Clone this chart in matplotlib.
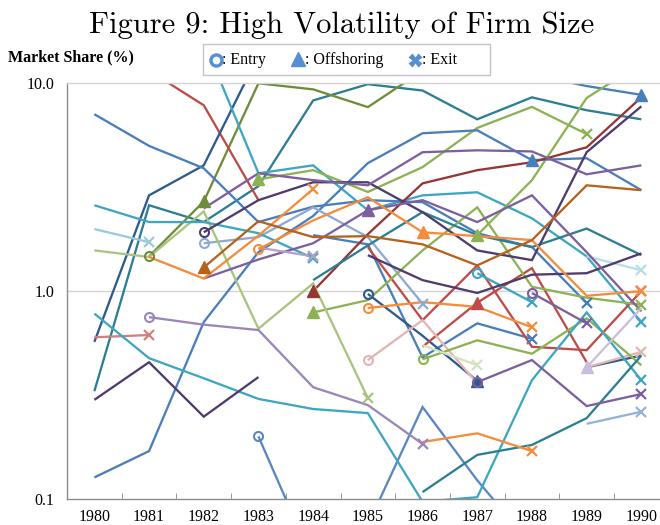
import numpy as np
import matplotlib
matplotlib.use("Agg")
import matplotlib.pyplot as plt
from matplotlib.lines import Line2D
from matplotlib.patches import Rectangle

N = None
years = list(range(1980, 1991))
year_labels = [str(y) for y in years]
y_ticks = [0.1, 1.0, 10.0]
y_tick_labels = ["0.1", "1.0", "10.0"]

# ---- series values (market share %, by year 1980..1990) ----
blue_a = [7.1, 5.0, 3.9, 2.15, 2.55, 2.74, 2.68, 1.9, 1.63, 0.875, N]
blue_b = [0.127, 0.17, 0.71, 1.54, 2.3, 4.13, 5.75, 5.94, 4.27, 4.36, 3.06]
blue_c = [N, N, N, N, N, N, N, N, 11.0, 9.7, 8.8]
blue_d = [N, N, N, N, 1.86, 1.68, 0.48, 0.70, 0.59, N, N]
blue_e = [N, N, N, 0.2, 0.05, N, N, N, N, N, N]
blue_f = [N, N, N, N, N, 0.075, 0.277, 0.123, 0.06, N, N]
lightblue_a = [N, N, 1.7, 1.82, 2.53, 1.82, 0.87, N, N, N, N]
lightblue_b = [N, N, N, N, N, N, N, N, N, 0.23, 0.263]
darkblue_a = [0.57, 2.89, 4.03, 13.6, N, N, N, N, N, N, N]
darkblue_b = [N, N, N, N, N, 0.97, 0.61, 0.37, N, N, N]
darkblue_c = [N, N, N, N, N, N, N, N, N, 0.43, 0.49]
red_a = [N, 11.5, 7.84, 2.74, N, N, N, N, N, N, N]
red_b = [N, N, N, N, N, 1.63, 0.725, 1.33, 0.54, 0.52, 1.0]
red_c = [N, N, N, N, N, N, 0.54, 0.88, 1.29, 0.455, N]
lightred = [0.60, 0.615, N, N, N, N, N, N, N, N, N]
darkred = [N, N, N, N, 1.0, 1.88, 3.3, 3.82, 4.17, 4.92, 8.56]
pink_a = [N, N, N, N, N, 0.466, 0.725, 0.36, N, N, N]
pink_b = [N, N, N, N, N, N, N, N, N, 0.43, 0.51]
olive = [N, 1.47, 2.7, 10.0, 9.35, 7.68, 11.5, N, N, N, N]
green_a = [N, N, N, 3.45, 3.82, 3.0, 3.95, 6.1, 7.7, 5.7, N]
green_b = [N, N, N, N, 0.79, 0.905, 1.57, 2.53, 1.05, 0.93, 0.86]
green_c = [N, N, N, N, N, N, N, 1.86, 3.42, 8.5, 12.5]
green_d = [N, N, N, N, N, N, 0.47, 0.58, 0.50, 0.74, 0.44]
lightgreen = [1.57, 1.46, 2.42, 0.66, 1.09, 0.306, N, N, N, N, N]
palegreen = [N, N, N, N, N, N, 0.55, 0.44, N, N, N]
cyan_a = [0.78, 0.476, 0.381, 0.303, 0.271, 0.259, 0.097, 0.102, 0.373, 0.79, 0.373]
cyan_b = [2.59, 2.15, 2.15, 1.9, 1.44, N, N, N, N, N, N]
cyan_c = [N, N, 16.0, 3.69, 4.03, 2.45, 2.89, 2.99, 2.24, 1.47, 0.71]
cyan_d = [N, N, N, N, N, N, N, 1.22, 0.885, N, N]
lightcyan_a = [1.99, 1.72, N, N, N, N, N, N, N, N, N]
lightcyan_b = [N, N, N, N, N, N, N, N, N, 1.47, 1.26]
teal_a = [0.33, 2.59, 2.15, 3.2, 8.27, 9.9, 9.23, 6.71, 8.56, 7.42, 6.71]
teal_b = [N, N, N, N, N, N, 0.108, 0.163, 0.182, 0.245, 0.49]
teal_c = [N, N, N, N, 1.13, 1.66, 2.4, 1.86, 1.63, 2.0, 1.49]
darkpurple_a = [0.3, 0.455, 0.249, 0.386, N, N, N, N, N, N, N]
darkpurple_b = [N, N, 1.92, 2.74, 3.34, 3.34, 2.4, 1.57, 1.41, 4.66, 7.75]
darkpurple_c = [N, N, N, N, N, 1.49, 1.13, 0.98, 1.2, 1.22, 1.52]
purple_a = [N, N, 2.5, 3.69, 3.42, 3.23, 4.66, 4.76, 4.7, 3.65, 4.03]
purple_b = [N, N, 1.15, 1.42, 1.7, 2.45, 2.74, 2.15, 2.89, 1.54, 0.8]
purple_c = [N, N, N, N, N, N, N, 0.365, 0.466, 0.28, 0.32]
purple_d = [N, N, N, N, N, N, N, N, 0.98, 0.7, N]
lavender_a = [N, 0.75, 0.69, 0.65, 0.345, 0.283, 0.184, N, N, N, N]
lavender_b = [N, N, N, N, N, N, N, N, N, 0.43, 0.83]
lavender_c = [N, N, N, 1.62, 1.47, N, N, N, N, N, N]
orange_a = [N, 1.46, 1.15, 1.85, 3.1, N, N, N, N, N, N]
orange_b = [N, N, N, 1.59, 2.19, 2.83, 1.92, 1.84, 1.76, 0.95, 1.0]
orange_c = [N, N, N, N, N, 0.83, 0.885, 0.84, 0.67, N, N]
orange_d = [N, N, N, N, N, N, 0.188, 0.207, 0.17, N, N]
brown = [N, N, 1.30, 2.17, 1.82, 1.84, 1.68, 1.33, 1.76, 3.23, 3.06]

# (values, colour, events {year: kind}) ; kinds: o entry, ^ offshoring, x exit
C_BLUE, C_DBLUE, C_LBLUE = "#4A7EBB", "#2E5A8E", "#8EA9D8"
C_RED, C_DRED, C_LRED, C_PINK = "#BE4B48", "#943634", "#D0807E", "#E3B5B3"
C_OLIVE, C_GREEN, C_LGREEN, C_PGREEN = "#6F8C3A", "#8DB253", "#A9C47F", "#D3E2C0"
C_CYAN, C_TEAL, C_LCYAN, C_PCYAN = "#3FA6C2", "#2C7F93", "#9CCADB", "#B9DDE8"
C_DPURP, C_PURP, C_LAV, C_PLAV = "#4F3B6E", "#7D5FA0", "#9A86B8", "#C9BFDC"
C_ORANGE, C_BROWN = "#F38D3C", "#B5621D"

series = [
    (teal_a, C_TEAL, {}),
    (olive, C_OLIVE, {1981: "o", 1982: "^"}),
    (red_a, C_RED, {}),
    (darkblue_a, C_DBLUE, {}),
    (blue_c, C_BLUE, {1990: "^"}),
    (cyan_c, C_CYAN, {1990: "x"}),
    (green_a, C_GREEN, {1983: "^", 1989: "x"}),
    (green_c, C_GREEN, {1987: "^"}),
    (blue_a, C_BLUE, {1989: "x"}),
    (blue_b, C_BLUE, {1988: "^"}),
    (blue_d, C_BLUE, {1988: "x"}),
    (blue_e, "#5A86C5", {1983: "o"}),
    (blue_f, "#5A86C5", {}),
    (lightblue_a, C_LBLUE, {1982: "o", 1986: "x"}),
    (lightblue_b, "#95B3D7", {1990: "x"}),
    (darkblue_b, C_DBLUE, {1985: "o", 1987: "^"}),
    (darkblue_c, C_DBLUE, {}),
    (red_b, C_RED, {1990: "x"}),
    (red_c, C_RED, {1987: "^"}),
    (lightred, C_LRED, {1981: "x"}),
    (darkred, C_DRED, {1984: "^"}),
    (pink_a, C_PINK, {1985: "o"}),
    (pink_b, C_PINK, {1990: "x"}),
    (green_b, C_GREEN, {1984: "^", 1990: "x"}),
    (green_d, C_GREEN, {1986: "o"}),
    (lightgreen, C_LGREEN, {1985: "x"}),
    (palegreen, C_PGREEN, {1987: "x"}),
    (cyan_a, C_CYAN, {1990: "x"}),
    (cyan_b, C_CYAN, {1984: "x"}),
    (cyan_d, C_CYAN, {1987: "o", 1988: "x"}),
    (lightcyan_a, C_LCYAN, {1981: "x"}),
    (lightcyan_b, C_PCYAN, {1990: "x"}),
    (teal_b, C_TEAL, {}),
    (teal_c, C_TEAL, {}),
    (darkpurple_a, C_DPURP, {}),
    (darkpurple_b, C_DPURP, {1982: "o"}),
    (darkpurple_c, C_DPURP, {}),
    (purple_a, C_PURP, {}),
    (purple_b, C_PURP, {1985: "^"}),
    (purple_c, C_PURP, {1987: "o", 1990: "x"}),
    (purple_d, C_PURP, {1988: "o", 1989: "x"}),
    (lavender_a, C_LAV, {1981: "o", 1986: "x"}),
    (lavender_b, C_PLAV, {1989: "^"}),
    (lavender_c, "#B3A2C7", {1984: "x"}),
    (orange_a, C_ORANGE, {1984: "x"}),
    (orange_b, C_ORANGE, {1983: "o", 1986: "^", 1990: "x"}),
    (orange_c, C_ORANGE, {1985: "o", 1988: "x"}),
    (orange_d, C_ORANGE, {1988: "x"}),
    (brown, C_BROWN, {1982: "^"}),
]

W, H = 660, 525
fig = plt.figure(figsize=(W / 100, H / 100), dpi=100)
fig.patch.set_facecolor("white")

ax_left, ax_right, ax_top, ax_bottom = 67, 668.7, 83.3, 499
ax = fig.add_axes([ax_left / W, (H - ax_bottom) / H,
                   (ax_right - ax_left) / W, (ax_bottom - ax_top) / H])

for vals, col, events in series:
    v = np.array([np.nan if x is None else x for x in vals], dtype=float)
    ax.plot(years, v, color=col, lw=1.65, solid_joinstyle="miter",
            solid_capstyle="butt", zorder=2)
    for yr, kind in events.items():
        val = v[years.index(yr)]
        if kind == "o":
            ax.plot([yr], [val], marker="o", ms=6.5, mfc="none", mec=col,
                    mew=1.5, zorder=3)
        elif kind == "^":
            ax.plot([yr], [val], marker="^", ms=8, color=col, mec=col, zorder=3)
        else:
            ax.plot([yr], [val], marker="x", ms=7.5, color=col, mew=1.6, zorder=3)

ax.set_yscale("log")
ax.set_ylim(0.1, 10)
ax.set_xlim(1979.5, 1990.5)
ax.set_yticks(y_ticks)
ax.set_yticklabels(y_tick_labels)
ax.yaxis.set_minor_locator(matplotlib.ticker.NullLocator())
ax.set_xticks(years)
ax.set_xticklabels(year_labels)
ax.set_xticks([y + 0.5 for y in years[:-1]], minor=True)

serif = ["Liberation Serif", "DejaVu Serif"]
for lab in ax.get_xticklabels() + ax.get_yticklabels():
    lab.set_fontfamily(serif)
    lab.set_fontsize(11.5)
ax.tick_params(axis="x", which="major", length=0, pad=7, colors="black")
ax.tick_params(axis="x", which="minor", length=4, direction="in", color="#8C8C8C")
ax.tick_params(axis="y", which="major", length=0, pad=9)

ax.axhline(1.0, color="#D4D4D4", lw=1.0, zorder=1)
for s in ["right"]:
    ax.spines[s].set_visible(False)
ax.spines["top"].set_color("#D4D4D4")
ax.spines["left"].set_color("#8C8C8C")
ax.spines["bottom"].set_color("#8C8C8C")
for s in ["top", "left", "bottom"]:
    ax.spines[s].set_linewidth(1.0)

# title
fig.text(341.5 / W, 1 - 33 / H, "Figure 9: High Volatility of Firm Size",
         family="cmr10", fontsize=22, ha="center", va="baseline")
# y label
fig.text(8 / W, 1 - 57 / H, "Market Share (%)", family=serif, weight="bold",
         fontsize=11.5, ha="left", va="center")

# legend box
lx0, ly0, lx1, ly1 = 203, 44, 490, 75
fig.add_artist(Rectangle((lx0 / W, 1 - ly1 / H), (lx1 - lx0) / W, (ly1 - ly0) / H,
                         transform=fig.transFigure, facecolor="white",
                         edgecolor="#C4C4C4", lw=1.0))
leg_col = "#558ED5"
ly = 1 - 60 / H
fig.add_artist(Line2D([216 / W], [ly], transform=fig.transFigure, marker="o",
                      ms=8, mfc="none", mec=leg_col, mew=2.4, ls="none"))
fig.add_artist(Line2D([298 / W], [ly + 1 / H], transform=fig.transFigure, marker="^",
                      ms=10, color=leg_col, ls="none"))
fig.add_artist(Line2D([415 / W], [ly], transform=fig.transFigure, marker="X",
                      ms=10, color=leg_col, mec="none", ls="none"))
for x, t in [(222, ": Entry"), (305, ": Offshoring"), (422, ": Exit")]:
    fig.text(x / W, ly, t, family=serif, fontsize=11.5, ha="left", va="center")

fig.savefig("out.png", dpi=100)
